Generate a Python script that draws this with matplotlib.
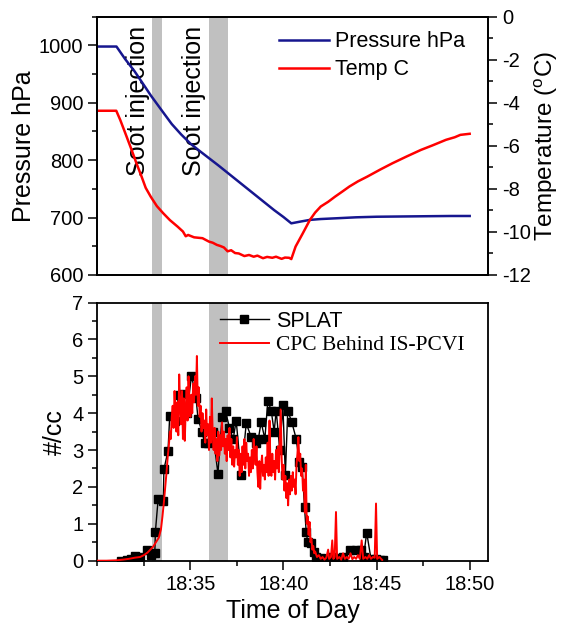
import numpy as np
import matplotlib
matplotlib.use("Agg")
import matplotlib.pyplot as plt
from matplotlib.ticker import MultipleLocator, FixedLocator

plt.rcParams['font.family'] = ['Liberation Sans', 'DejaVu Sans']
plt.rcParams['mathtext.fontset'] = 'custom'
plt.rcParams['mathtext.rm'] = 'Liberation Sans'
plt.rcParams['axes.unicode_minus'] = False

# time axis is minutes after 18:00

# top panel: chamber pressure (hPa) and temperature (C)
press_t = [30.0, 31.03, 31.5, 32.0, 32.5, 32.87, 33.5, 34.0, 34.5, 35.0, 35.5, 35.94,
           36.5, 37.0, 37.5, 38.0, 38.5, 39.0, 39.5, 40.0, 40.42, 40.9, 41.42,
           42.0, 42.96, 43.9, 45.0, 46.5, 48.0, 49.0, 50.0]
press_v = [998, 998, 976, 955, 931, 913, 885, 863, 845, 829, 816, 805,
           791, 778, 765, 752, 739, 726, 713, 701, 690, 693, 696,
           697.5, 699, 700.5, 701.5, 702, 702.5, 702.8, 702.8]

temp_t = [30.0, 31.02, 31.23, 31.5, 31.81, 32.1, 32.38, 32.6, 32.87, 33.2, 33.54, 33.9,
          34.31, 34.6, 34.75, 34.88, 35.2, 35.65, 36.0, 36.2, 36.42, 36.6, 36.8, 37.0,
          37.19, 37.4, 37.6, 37.9, 38.15, 38.4, 38.6, 38.9, 39.12, 39.4, 39.6, 39.9,
          40.08, 40.3, 40.42, 40.65, 41.04, 41.42, 41.7, 42.0,
          42.4, 42.77, 43.2, 43.54, 44.0, 44.5, 45.2, 45.85, 46.6, 47.38, 48.0,
          48.73, 49.2, 49.5, 50.0]
temp_v = [-4.37, -4.37, -4.79, -5.4, -6.11, -6.8, -7.43, -7.95, -8.36, -8.8, -9.13, -9.45,
          -9.75, -9.98, -10.2, -10.14, -10.25, -10.29, -10.45, -10.5, -10.6, -10.65, -10.72, -10.9,
          -10.85, -10.98, -11.0, -11.12, -11.07, -11.15, -11.1, -11.22, -11.16, -11.2, -11.15, -11.25,
          -11.19, -11.2, -11.26, -10.68, -10.06, -9.44, -9.1, -8.82,
          -8.6, -8.36, -8.1, -7.89, -7.65, -7.43, -7.1, -6.81, -6.5, -6.19, -5.98,
          -5.72, -5.6, -5.49, -5.44]

# bottom panel: SPLAT and CPC number concentration (#/cc)
splat_t = [31.3, 31.57, 31.8, 32.02, 32.3, 32.65, 32.9, 33.09, 33.12, 33.27, 33.54, 33.58,
           33.8, 33.89, 34.16, 34.38, 34.6, 34.82, 35.06, 35.3, 35.41, 35.62, 35.77, 35.95,
           36.2, 36.48, 36.7, 36.89, 37.1, 37.3, 37.46, 37.73, 38.0, 38.27, 38.5, 38.65,
           38.8, 39.0, 39.16, 39.34, 39.5, 39.61, 39.8, 39.97, 40.1, 40.23, 40.45, 40.68,
           40.85, 41.0, 41.13, 41.22, 41.3, 41.48, 41.66, 41.75, 42.0, 42.3, 42.6, 42.9,
           43.2, 43.55, 43.9, 44.17, 44.3, 44.47, 44.7, 44.95, 45.2, 45.37]
splat_v = [0.0, 0.03, 0.05, 0.12, 0.1, 0.28, 0.15, 0.2, 0.78, 1.68, 1.62, 2.48,
           2.98, 3.92, 3.8, 4.5, 4.52, 4.0, 5.02, 4.42, 3.85, 3.5, 3.18, 3.2,
           3.5, 2.36, 3.9, 4.05, 3.6, 3.3, 3.8, 2.32, 3.72, 3.35, 3.2, 3.3,
           3.76, 3.3, 4.34, 4.07, 3.5, 4.07, 3.0, 4.21, 2.32, 4.07, 3.75, 3.31,
           2.68, 2.55, 1.45, 0.78, 0.51, 0.48, 0.24, 0.11, 0.08, 0.05, 0.1, 0.06,
           0.1, 0.28, 0.28, 0.28, 0.1, 0.76, 0.05, 0.05, 0.03, 0.02]

cpc_t = [30.0, 30.5, 31.0, 31.4, 31.7, 32.0, 32.3, 32.5, 32.7, 32.85, 33.0, 33.15,
         33.3, 33.42, 33.5, 33.58, 33.65, 33.72, 33.78, 33.84, 33.9, 33.95,
         34.0, 34.05, 34.1, 34.15, 34.2, 34.25, 34.3, 34.35, 34.4, 34.45,
         34.5, 34.55, 34.6, 34.65, 34.7, 34.75, 34.8, 34.85, 34.9, 34.95,
         35.0, 35.05, 35.1, 35.15, 35.2, 35.25, 35.3, 35.35, 35.4, 35.45,
         35.5, 35.55, 35.6, 35.65, 35.7, 35.75, 35.8, 35.85, 35.9, 35.95,
         36.0, 36.05, 36.1, 36.15, 36.2, 36.25, 36.3, 36.35, 36.4, 36.45,
         36.5, 36.55, 36.6, 36.65, 36.7, 36.75, 36.8, 36.85, 36.9, 36.95,
         37.0, 37.05, 37.1, 37.15, 37.2, 37.25, 37.3, 37.35, 37.4, 37.45,
         37.5, 37.55, 37.6, 37.65, 37.7, 37.75, 37.8, 37.85, 37.9, 37.95,
         38.0, 38.05, 38.1, 38.15, 38.2, 38.25, 38.3, 38.35, 38.4, 38.45,
         38.5, 38.55, 38.6, 38.65, 38.7, 38.75, 38.8, 38.85, 38.9, 38.95,
         39.0, 39.05, 39.1, 39.15, 39.2, 39.25, 39.3, 39.35, 39.4, 39.45,
         39.5, 39.55, 39.6, 39.65, 39.7, 39.75, 39.8, 39.85, 39.9, 39.95,
         40.0, 40.05, 40.1, 40.15, 40.2, 40.25, 40.3, 40.35, 40.4, 40.45,
         40.5, 40.55, 40.6, 40.65, 40.7, 40.75, 40.8, 40.85, 40.9, 40.95,
         41.0, 41.05, 41.1, 41.15, 41.2, 41.25, 41.3, 41.35, 41.4, 41.45,
         41.5, 41.55, 41.6, 41.65, 41.7, 41.8, 41.9, 42.0, 42.1, 42.2,
         42.3, 42.4, 42.45, 42.55, 42.62, 42.68, 42.75, 42.82, 42.88, 43.0,
         43.1, 43.2, 43.3, 43.4, 43.5, 43.6, 43.7, 43.8, 43.9, 44.0,
         44.1, 44.2, 44.28, 44.4, 44.5, 44.6, 44.7, 44.8, 44.9, 44.97,
         45.03, 45.15, 45.3]
cpc_v = [0.0, 0.0, 0.01, 0.03, 0.05, 0.08, 0.1, 0.15, 0.22, 0.3, 0.38, 0.5,
         0.62, 0.85, 1.2, 1.6, 2.0, 2.4, 2.8, 3.1, 3.5, 3.3,
         3.9, 4.2, 3.6, 4.6, 4.0, 3.5, 4.3, 3.4, 5.05, 4.2,
         3.7, 4.6, 3.3, 4.4, 3.25, 4.1, 4.7, 3.8, 5.0, 4.3,
         3.9, 4.5, 4.0, 4.8, 4.3, 5.0, 4.5, 5.55, 4.2, 4.7,
         3.9, 4.2, 3.5, 4.0, 3.6, 3.8, 3.2, 4.1, 3.4, 3.7,
         3.0, 3.9, 3.2, 4.4, 3.4, 3.0, 3.6, 2.9, 3.3, 2.7,
         3.5, 2.85, 3.4, 3.0, 3.75, 3.1, 3.5, 2.9, 3.3, 2.7,
         3.4, 3.0, 3.6, 2.8, 3.3, 2.6, 3.1, 2.55, 3.0, 2.8,
         3.35, 2.6, 3.0, 2.3, 2.9, 2.4, 3.1, 2.6, 3.3, 2.5,
         3.2, 2.7, 2.9, 2.3, 2.8, 2.4, 3.0, 2.5, 3.3, 2.9,
         2.6, 3.1, 2.4, 2.0, 2.7, 1.95, 2.6, 2.85, 2.3, 2.6,
         2.2, 2.8, 2.4, 3.2, 2.3, 3.8, 2.6, 2.3, 2.9, 2.4,
         2.7, 2.2, 3.0, 2.5, 3.1, 2.4, 3.3, 4.1, 2.8, 2.2,
         2.6, 1.9, 2.3, 1.7, 2.1, 1.5, 2.2, 1.8, 2.3, 1.9,
         2.4, 2.0, 2.2, 1.8, 2.6, 2.9, 3.35, 2.7, 2.9, 2.3,
         2.5, 1.9, 2.2, 1.3, 2.6, 1.0, 1.2, 0.7, 1.05, 0.5,
         0.6, 0.3, 0.4, 0.2, 0.25, 0.1, 0.15, 0.05, 0.1, 0.03,
         0.08, 0.3, 0.05, 0.1, 0.55, 0.05, 0.1, 1.32, 0.05, 0.1,
         0.03, 0.2, 0.05, 0.1, 0.05, 0.2, 0.04, 0.1, 0.05, 0.15,
         0.05, 0.55, 0.05, 0.1, 0.05, 0.15, 0.05, 0.1, 0.08, 1.55,
         0.05, 0.1, 0.02]

soot_start = [32.95, 36.0]
soot_end = [33.45, 37.0]
soot_label_x = [32.2, 35.17]

xticks = [35, 40, 45, 50]
xticklabels = ['18:35', '18:40', '18:45', '18:50']

band_color = '#c0c0c0'
tick_fs = 14.5
label_fs = 18
leg_fs = 15.5

fig = plt.figure(figsize=(5.61, 6.25), dpi=100)
ax1 = fig.add_axes([0.1734, 0.56, 0.697, 0.4133])
ax2 = fig.add_axes([0.1734, 0.1029, 0.697, 0.4131])

def style_ticks(ax, **kw):
    ax.tick_params(which='major', direction='out', length=6.5, width=1.1,
                   labelsize=tick_fs, **kw)
    ax.tick_params(which='minor', direction='out', length=3.4, width=1.1, **kw)

# ---- top panel
for s, e in zip(soot_start, soot_end):
    ax1.axvspan(s, e, color=band_color, lw=0, zorder=0)
for xl in soot_label_x:
    ax1.text(xl, 0.675, 'Soot injection', rotation=90, ha='center', va='center',
             fontsize=label_fs, transform=ax1.get_xaxis_transform(), zorder=1)

lp, = ax1.plot(press_t, press_v, color='#16168f', lw=1.8, zorder=3)
ax1.set_xlim(30, 51)
ax1.set_ylim(600, 1050)
ax1.yaxis.set_major_locator(FixedLocator([600, 700, 800, 900, 1000]))
ax1.yaxis.set_minor_locator(MultipleLocator(50))
ax1.set_ylabel('Pressure hPa', fontsize=label_fs, labelpad=2)
style_ticks(ax1)
ax1.tick_params(axis='x', which='both', bottom=False, labelbottom=False)

ax1t = ax1.twinx()
lt, = ax1t.plot(temp_t, temp_v, color='#ff0000', lw=1.8)
ax1t.set_ylim(-12, 0)
ax1t.yaxis.set_major_locator(MultipleLocator(2))
ax1t.yaxis.set_minor_locator(MultipleLocator(1))
ax1t.set_ylabel(r'Temperature ($^{\rm o}$C)', fontsize=17.5, labelpad=1)
style_ticks(ax1t)
ax1t.set_xlim(30, 51)

ax1t.legend([lp, lt], ['Pressure hPa', 'Temp C'], loc='upper left',
            bbox_to_anchor=(0.465, 0.944), frameon=False, fontsize=leg_fs,
            handlelength=2.3, handletextpad=0.3, labelspacing=0.34,
            borderpad=0, borderaxespad=0)

for ax in (ax1, ax1t, ax2):
    for sp in ax.spines.values():
        sp.set_linewidth(1.3)

# ---- bottom panel
for s, e in zip(soot_start, soot_end):
    ax2.axvspan(s, e, color=band_color, lw=0, zorder=0)
ls, = ax2.plot(splat_t, splat_v, color='black', lw=1.0, marker='s',
               markersize=6, zorder=2)
lc, = ax2.plot(cpc_t, cpc_v, color='#ff0000', lw=1.4, zorder=3)
ax2.set_xlim(30, 51)
ax2.set_ylim(0, 7)
ax2.xaxis.set_major_locator(FixedLocator(xticks))
ax2.set_xticklabels(xticklabels)
ax2.xaxis.set_minor_locator(MultipleLocator(2.5))
ax2.yaxis.set_major_locator(MultipleLocator(1))
ax2.yaxis.set_minor_locator(MultipleLocator(0.5))
style_ticks(ax2)
ax2.set_xlabel('Time of Day', fontsize=label_fs)
ax2.set_ylabel('#/cc', fontsize=label_fs)

leg = ax2.legend([ls, lc], ['SPLAT', 'CPC Behind IS-PCVI'], loc='upper left',
                 bbox_to_anchor=(0.313, 0.967), frameon=False, fontsize=leg_fs,
                 handlelength=2.3, handletextpad=0.3, labelspacing=0.15,
                 borderpad=0, borderaxespad=0)
leg.get_texts()[1].set_family(['Liberation Serif', 'DejaVu Serif'])

fig.savefig('out.png', dpi=100)
